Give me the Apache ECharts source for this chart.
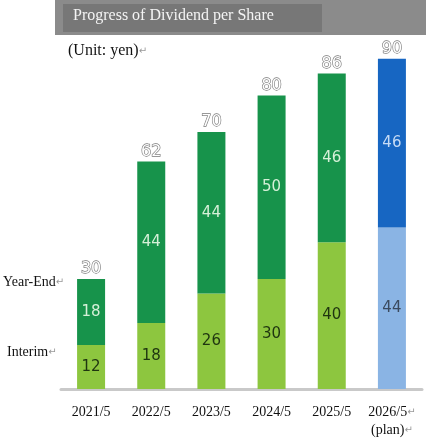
<!DOCTYPE html>
<html>
<head>
<meta charset="utf-8">
<script src="https://cdn.jsdelivr.net/npm/echarts@6/dist/echarts.min.js"></script>
<style>
  html, body { margin: 0; padding: 0; background: #fff; }
  #main { width: 426px; height: 439px; }
</style>
</head>
<body>
<div id="main"></div>
<script>
// 数据
const categories = ['2021/5', '2022/5', '2023/5', '2024/5', '2025/5', '2026/5'];
const interim = [12, 18, 26, 30, 40, 44];
const yearEnd = [18, 44, 44, 50, 46, 46];
const totals = [30, 62, 70, 80, 86, 90];
const planIndex = 5; // 2026/5 是计划值

const serif = '"Liberation Serif", "DejaVu Serif", serif';
const numFont = '"DejaVu Sans", "Noto Sans", sans-serif';
const arrow = { a: { fill: '#999', color: '#999', fontSize: 10, fontFamily: numFont } };

const myChart = echarts.init(document.getElementById('main'));

myChart.setOption({
  animation: false,
  grid: { left: 61, right: 4, top: 22, bottom: 47 },
  xAxis: {
    type: 'category',
    data: categories,
    axisTick: { show: false },
    axisLine: { lineStyle: { color: '#c9c9c9', width: 3 } },
    axisLabel: {
      interval: 0,
      margin: 14,
      fontFamily: serif,
      fontSize: 14,
      color: '#111',
      lineHeight: 18,
      formatter: (v, i) => i === planIndex ? v + '{a|↵}\n(plan){a|↵}' : v,
      rich: arrow
    }
  },
  yAxis: { type: 'value', min: 0, max: 100, show: false, splitLine: { show: false } },
  series: [
    {
      name: 'Interim',
      type: 'bar',
      stack: 'dps',
      barWidth: 28,
      data: interim.map((v, i) => ({
        value: v,
        itemStyle: { color: i === planIndex ? '#8ab4e4' : '#8dc63f' },
        label: { color: i === planIndex ? '#3b4a5e' : '#1f3510' }
      })),
      label: { show: true, position: 'inside', fontFamily: numFont, fontSize: 15 }
    },
    {
      name: 'Year-End',
      type: 'bar',
      stack: 'dps',
      barWidth: 28,
      data: yearEnd.map((v, i) => ({
        value: v,
        itemStyle: { color: i === planIndex ? '#1766c2' : '#17934b' },
        label: { color: i === planIndex ? '#c6dbf5' : '#d6f0d8' }
      })),
      label: { show: true, position: 'inside', fontFamily: numFont, fontSize: 15 }
    },
    {
      // 合计标签
      name: 'Total',
      type: 'bar',
      stack: 'dps',
      barWidth: 28,
      data: totals.map(() => 0),
      itemStyle: { color: 'transparent' },
      label: {
        show: true,
        position: 'top',
        distance: 2,
        formatter: p => totals[p.dataIndex],
        fontFamily: numFont,
        fontSize: 16,
        color: '#fff',
        textBorderColor: '#7a7a7a',
        textBorderWidth: 1.3
      }
    }
  ],
  graphic: [
    { type: 'rect', left: 55, top: 0, shape: { width: 371, height: 35 }, style: { fill: '#8b8b8b' } },
    { type: 'rect', left: 63, top: 4, shape: { width: 259, height: 28 }, style: { fill: '#777777' } },
    { type: 'text', left: 73, top: 8, style: { text: 'Progress of Dividend per Share', fill: '#f4f4f4', font: '16px ' + serif } },
    {
      type: 'text', left: 68, top: 43,
      style: { text: '(Unit: yen){a|↵}', fill: '#111', font: '16px ' + serif, rich: arrow }
    },
    {
      type: 'text', left: 3, top: 275,
      style: { text: 'Year-End{a|↵}', fill: '#111', font: '14px ' + serif, rich: arrow }
    },
    {
      type: 'text', left: 7, top: 345,
      style: { text: 'Interim{a|↵}', fill: '#111', font: '14px ' + serif, rich: arrow }
    }
  ]
});
</script>
</body>
</html>
